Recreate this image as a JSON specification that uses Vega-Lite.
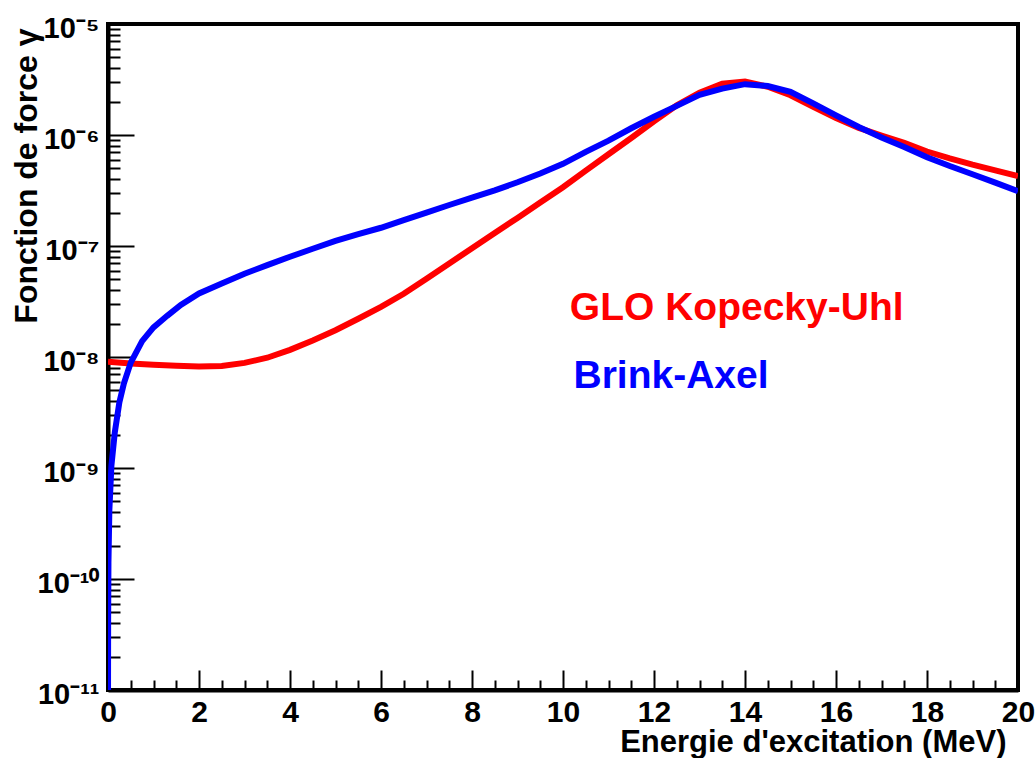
{
  "$schema": "https://vega.github.io/schema/vega-lite/v6.json",
  "width": 910,
  "height": 666,
  "autosize": "none",
  "padding": {"left": 108, "top": 24, "right": 18, "bottom": 68},
  "background": "white",
  "config": {
    "view": {"stroke": "black", "strokeWidth": 4},
    "axis": {
      "domainColor": "black", "domainWidth": 4,
      "ticks": true,
      "tickColor": "black", "tickWidth": 2,
      "grid": false,
      "zindex": 0,
      "labelFont": "Liberation Sans", "labelFontWeight": "bold", "labelColor": "black",
      "titleFont": "Liberation Sans", "titleFontWeight": "bold", "titleColor": "black",
      "labelOverlap": false, "labelFlush": false
    }
  },
  "datasets": {
    "glo": [
      {"E": 0, "f": 9.05e-9, "model": "GLO"},
      {"E": 0.5, "f": 8.72e-9, "model": "GLO"},
      {"E": 1.0, "f": 8.5e-9, "model": "GLO"},
      {"E": 1.5, "f": 8.33e-9, "model": "GLO"},
      {"E": 2.0, "f": 8.23e-9, "model": "GLO"},
      {"E": 2.5, "f": 8.3e-9, "model": "GLO"},
      {"E": 3.0, "f": 8.85e-9, "model": "GLO"},
      {"E": 3.5, "f": 9.85e-9, "model": "GLO"},
      {"E": 4.0, "f": 1.16e-8, "model": "GLO"},
      {"E": 4.5, "f": 1.41e-8, "model": "GLO"},
      {"E": 5.0, "f": 1.74e-8, "model": "GLO"},
      {"E": 5.5, "f": 2.21e-8, "model": "GLO"},
      {"E": 6.0, "f": 2.83e-8, "model": "GLO"},
      {"E": 6.5, "f": 3.71e-8, "model": "GLO"},
      {"E": 7.0, "f": 5.08e-8, "model": "GLO"},
      {"E": 7.5, "f": 6.97e-8, "model": "GLO"},
      {"E": 8.0, "f": 9.54e-8, "model": "GLO"},
      {"E": 8.5, "f": 1.31e-7, "model": "GLO"},
      {"E": 9.0, "f": 1.79e-7, "model": "GLO"},
      {"E": 9.5, "f": 2.47e-7, "model": "GLO"},
      {"E": 10.0, "f": 3.38e-7, "model": "GLO"},
      {"E": 10.5, "f": 4.77e-7, "model": "GLO"},
      {"E": 11.0, "f": 6.7e-7, "model": "GLO"},
      {"E": 11.5, "f": 9.4e-7, "model": "GLO"},
      {"E": 12.0, "f": 1.33e-6, "model": "GLO"},
      {"E": 12.5, "f": 1.85e-6, "model": "GLO"},
      {"E": 13.0, "f": 2.41e-6, "model": "GLO"},
      {"E": 13.5, "f": 2.9e-6, "model": "GLO"},
      {"E": 14.0, "f": 3.03e-6, "model": "GLO"},
      {"E": 14.5, "f": 2.72e-6, "model": "GLO"},
      {"E": 15.0, "f": 2.28e-6, "model": "GLO"},
      {"E": 15.5, "f": 1.79e-6, "model": "GLO"},
      {"E": 16.0, "f": 1.42e-6, "model": "GLO"},
      {"E": 16.5, "f": 1.16e-6, "model": "GLO"},
      {"E": 17.0, "f": 9.9e-7, "model": "GLO"},
      {"E": 17.5, "f": 8.5e-7, "model": "GLO"},
      {"E": 18.0, "f": 7.1e-7, "model": "GLO"},
      {"E": 18.5, "f": 6.15e-7, "model": "GLO"},
      {"E": 19.0, "f": 5.4e-7, "model": "GLO"},
      {"E": 19.5, "f": 4.8e-7, "model": "GLO"},
      {"E": 20.0, "f": 4.27e-7, "model": "GLO"}
    ],
    "ba": [
      {"E": 0.0005, "f": 7e-12, "model": "BA"},
      {"E": 0.001, "f": 1.4e-11, "model": "BA"},
      {"E": 0.003, "f": 4.2e-11, "model": "BA"},
      {"E": 0.01, "f": 1.4e-10, "model": "BA"},
      {"E": 0.03, "f": 4.2e-10, "model": "BA"},
      {"E": 0.075, "f": 1.05e-9, "model": "BA"},
      {"E": 0.15, "f": 2.1e-9, "model": "BA"},
      {"E": 0.25, "f": 3.9e-9, "model": "BA"},
      {"E": 0.35, "f": 5.8e-9, "model": "BA"},
      {"E": 0.5, "f": 8.9e-9, "model": "BA"},
      {"E": 0.75, "f": 1.39e-8, "model": "BA"},
      {"E": 1.0, "f": 1.85e-8, "model": "BA"},
      {"E": 1.3, "f": 2.35e-8, "model": "BA"},
      {"E": 1.6, "f": 2.95e-8, "model": "BA"},
      {"E": 2.0, "f": 3.74e-8, "model": "BA"},
      {"E": 2.5, "f": 4.59e-8, "model": "BA"},
      {"E": 3.0, "f": 5.63e-8, "model": "BA"},
      {"E": 3.5, "f": 6.73e-8, "model": "BA"},
      {"E": 4.0, "f": 8.0e-8, "model": "BA"},
      {"E": 4.5, "f": 9.45e-8, "model": "BA"},
      {"E": 5.0, "f": 1.11e-7, "model": "BA"},
      {"E": 5.5, "f": 1.28e-7, "model": "BA"},
      {"E": 6.0, "f": 1.46e-7, "model": "BA"},
      {"E": 6.5, "f": 1.71e-7, "model": "BA"},
      {"E": 7.0, "f": 2.0e-7, "model": "BA"},
      {"E": 7.5, "f": 2.34e-7, "model": "BA"},
      {"E": 8.0, "f": 2.73e-7, "model": "BA"},
      {"E": 8.5, "f": 3.17e-7, "model": "BA"},
      {"E": 9.0, "f": 3.75e-7, "model": "BA"},
      {"E": 9.5, "f": 4.5e-7, "model": "BA"},
      {"E": 10.0, "f": 5.5e-7, "model": "BA"},
      {"E": 10.5, "f": 7.05e-7, "model": "BA"},
      {"E": 11.0, "f": 8.9e-7, "model": "BA"},
      {"E": 11.5, "f": 1.15e-6, "model": "BA"},
      {"E": 12.0, "f": 1.46e-6, "model": "BA"},
      {"E": 12.5, "f": 1.83e-6, "model": "BA"},
      {"E": 13.0, "f": 2.3e-6, "model": "BA"},
      {"E": 13.5, "f": 2.62e-6, "model": "BA"},
      {"E": 14.0, "f": 2.87e-6, "model": "BA"},
      {"E": 14.5, "f": 2.76e-6, "model": "BA"},
      {"E": 15.0, "f": 2.45e-6, "model": "BA"},
      {"E": 15.5, "f": 1.93e-6, "model": "BA"},
      {"E": 16.0, "f": 1.5e-6, "model": "BA"},
      {"E": 16.5, "f": 1.18e-6, "model": "BA"},
      {"E": 17.0, "f": 9.48e-7, "model": "BA"},
      {"E": 17.5, "f": 7.8e-7, "model": "BA"},
      {"E": 18.0, "f": 6.3e-7, "model": "BA"},
      {"E": 18.5, "f": 5.25e-7, "model": "BA"},
      {"E": 19.0, "f": 4.43e-7, "model": "BA"},
      {"E": 19.5, "f": 3.72e-7, "model": "BA"},
      {"E": 20.0, "f": 3.12e-7, "model": "BA"}
    ],
    "labels": [
      {"E": 10.15, "f": 2.17e-8, "model": "GLO", "label": "GLO Kopecky-Uhl"},
      {"E": 10.23, "f": 5.26e-9, "model": "BA", "label": "Brink-Axel"}
    ]
  },
  "encoding": {
    "x": {
      "field": "E", "type": "quantitative",
      "scale": {"domain": [0, 20], "nice": false, "zero": false},
      "axis": {
        "title": "Energie d'excitation (MeV)",
        "titleFontSize": 31,
        "titleAlign": "right",
        "titleBaseline": "alphabetic",
        "titleX": 898,
        "titleY": 61,
        "values": [0,0.5,1,1.5,2,2.5,3,3.5,4,4.5,5,5.5,6,6.5,7,7.5,8,8.5,9,9.5,10,10.5,11,11.5,12,12.5,13,13.5,14,14.5,15,15.5,16,16.5,17,17.5,18,18.5,19,19.5,20],
        "labelExpr": "abs(datum.value/2 - round(datum.value/2)) < 0.001 ? '' + datum.value : ''",
        "labelFontSize": 30,
        "tickSize": 1,
        "labelPadding": 6,
        "encoding": {
          "ticks": {"y2": {"condition": {"test": "abs(datum.value/2 - round(datum.value/2)) < 0.001", "value": -20}, "value": -10}}
        }
      }
    },
    "y": {
      "field": "f", "type": "quantitative",
      "scale": {"type": "log", "domain": [1e-11, 1e-5], "nice": false},
      "axis": {
        "title": "Fonction de force γ",
        "titleFontSize": 32,
        "titleAngle": -90,
        "titleAlign": "right",
        "titleBaseline": "alphabetic",
        "titleX": -72,
        "titleY": 4,
        "values": [1e-11,2e-11,3e-11,4e-11,5e-11,6e-11,7e-11,8e-11,9e-11,1e-10,2e-10,3e-10,4e-10,5e-10,6e-10,7e-10,8e-10,9e-10,1e-9,2e-9,3e-9,4e-9,5e-9,6e-9,7e-9,8e-9,9e-9,1e-8,2e-8,3e-8,4e-8,5e-8,6e-8,7e-8,8e-8,9e-8,1e-7,2e-7,3e-7,4e-7,5e-7,6e-7,7e-7,8e-7,9e-7,1e-6,2e-6,3e-6,4e-6,5e-6,6e-6,7e-6,8e-6,9e-6,1e-5],
        "labelExpr": "abs(log(datum.value)/LN10 - round(log(datum.value)/LN10)) > 0.01 ? '' : round(log(datum.value)/LN10) == -5 ? '10⁻⁵' : round(log(datum.value)/LN10) == -6 ? '10⁻⁶' : round(log(datum.value)/LN10) == -7 ? '10⁻⁷' : round(log(datum.value)/LN10) == -8 ? '10⁻⁸' : round(log(datum.value)/LN10) == -9 ? '10⁻⁹' : round(log(datum.value)/LN10) == -10 ? '10⁻¹⁰' : '10⁻¹¹'",
        "labelFontSize": 29,
        "labelAlign": "right",
        "labelBaseline": "middle",
        "labelOffset": 4,
        "tickSize": 1,
        "labelPadding": 8,
        "encoding": {
          "ticks": {"x2": {"condition": {"test": "abs(log(datum.value)/LN10 - round(log(datum.value)/LN10)) < 0.01", "value": 26}, "value": 12}}
        }
      }
    },
    "color": {
      "field": "model", "type": "nominal",
      "scale": {"domain": ["GLO", "BA"], "range": ["#ff0000", "#0000ff"]},
      "legend": null
    }
  },
  "layer": [
    {
      "data": {"name": "glo"},
      "mark": {"type": "line", "strokeWidth": 6, "clip": true}
    },
    {
      "data": {"name": "ba"},
      "mark": {"type": "line", "strokeWidth": 6, "clip": true}
    },
    {
      "data": {"name": "labels"},
      "mark": {"type": "text", "align": "left", "baseline": "alphabetic", "font": "Liberation Sans", "fontWeight": "bold", "fontSize": 39},
      "encoding": {"text": {"field": "label", "type": "nominal"}}
    }
  ]
}
